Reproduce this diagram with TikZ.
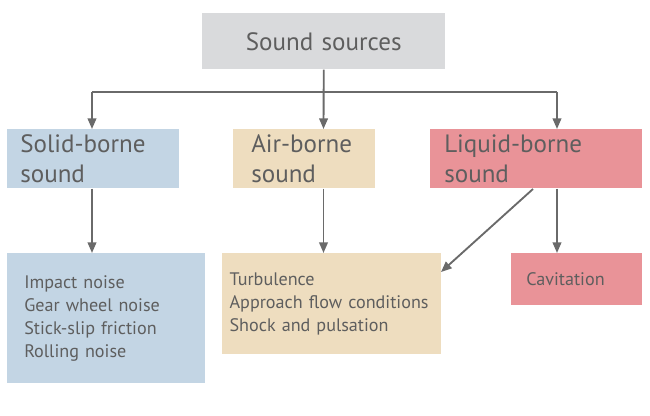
\documentclass[tikz,border=0pt]{standalone}
\usepackage{fontspec}
\setmainfont{PT Sans}
\usetikzlibrary{arrows.meta}
\hyphenpenalty=10000
\exhyphenpenalty=10000
\definecolor{topgray}{HTML}{D9DADC}
\definecolor{solidblue}{HTML}{C3D5E4}
\definecolor{airbeige}{HTML}{EEDDBF}
\definecolor{liqred}{HTML}{E99398}
\definecolor{txtgray}{HTML}{5E5E5E}
\definecolor{arrgray}{HTML}{6A6A6A}
\tikzset{
  box/.style={anchor=north west, inner ysep=0pt, align=left, text=txtgray, draw=none},
  bigtxt/.style={font=\fontsize{18.8}{22.5}\selectfont},
  smalltxt/.style={font=\fontsize{13.6}{17.3}\selectfont},
  arr/.style={draw=arrgray, line width=1.4pt, -{Triangle[length=8pt,width=6.5pt]}},
  ln/.style={draw=arrgray, line width=1.4pt}
}
\begin{document}
\begin{tikzpicture}[x=0.75pt,y=-0.75pt]
\useasboundingbox (0,0) rectangle (650,416);
% top
\node[box, fill=topgray, bigtxt, inner xsep=0pt, text width=182.25pt, align=center, minimum height=42pt] (top) at (202,13) {Sound sources};
% row 2
\node[box, fill=solidblue, bigtxt, inner xsep=9.75pt, text width=109.5pt, minimum height=44.25pt] (solid) at (7,129) {Solid-borne\\sound};
\node[box, fill=airbeige, bigtxt, inner xsep=13.5pt, text width=79.5pt, minimum height=44.25pt] (air) at (233,129) {Air-borne\\sound};
\node[box, fill=liqred, bigtxt, inner xsep=10.5pt, text width=138pt, minimum height=44.25pt] (liquid) at (430,129) {Liquid-borne\\sound};
% row 3
\node[box, fill=solidblue, smalltxt, inner xsep=12.75pt, text width=123pt, minimum height=97.5pt] (lowsolid) at (7,253) {Impact noise\\Gear wheel noise\\Stick-slip friction\\Rolling noise};
\node[box, fill=airbeige, smalltxt, inner xsep=5.5pt, text width=153.25pt, minimum height=75.75pt] (lowair) at (222,253) {Turbulence\\Approach flow conditions\\Shock and pulsation};
\node[box, fill=liqred, smalltxt, inner xsep=11.25pt, text width=75.75pt, minimum height=39pt] (cav) at (511,253) {Cavitation};
% connectors
\coordinate (jl) at (92,92);
\coordinate (jm) at (323.5,92);
\coordinate (jr) at (557,92);
\draw[ln] (jl) -- (jr);
\draw[arr] (top.south) -- (jm |- air.north);
\draw[arr] (jl) -- (jl |- solid.north);
\draw[arr] (jr) -- (jr |- liquid.north);
\draw[arr] (jl |- solid.south) -- (jl |- lowsolid.north);
\draw[arr] (jm |- air.south) -- (jm |- lowair.north);
\draw[arr] (jr |- liquid.south) -- (jr |- cav.north);
\coordinate (dstart) at (533,189);
\coordinate (dend) at (441,272);
\draw[arr] (dstart) -- (dend);
\end{tikzpicture}
\end{document}
